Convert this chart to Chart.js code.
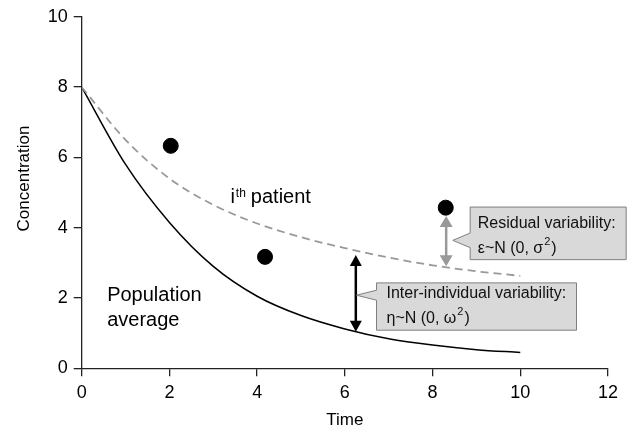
<!DOCTYPE html>
<html>
<head>
<meta charset="utf-8">
<script src="https://cdn.jsdelivr.net/npm/chart.js@4"></script>
<style>
  html, body { margin: 0; padding: 0; background: #fff; }
  #grafico-wrap { width: 630px; height: 437px; }
</style>
</head>
<body>
<div id="grafico-wrap"><canvas id="grafico"></canvas></div>
<script>
// curvas de concentração x tempo
const tempo = [0, 1, 2, 3, 4, 5, 6, 7, 8, 9, 10];
const mediaPopulacional = [8, 5.8, 4.15, 2.9, 2.05, 1.5, 1.12, 0.84, 0.66, 0.53, 0.45];
const pacienteI = [8, 6.5, 5.4, 4.65, 4.12, 3.73, 3.42, 3.15, 2.93, 2.76, 2.63];

// observações do paciente i
const obsTempo = [2.03, 4.18, 8.3];
const obsConc = [6.33, 3.17, 4.57];

const ticksTempo = [0, 2, 4, 6, 8, 10, 12];
const ticksConc = [0, 2, 4, 6, 8, 10];

const fonte = '"Liberation Sans", Arial, Helvetica, sans-serif';
const corEixo = '#222';

function seta(ctx, x, yBaixo, yCima, cor, larg, cabL, cabA) {
    ctx.save();
    ctx.strokeStyle = cor;
    ctx.fillStyle = cor;
    ctx.lineWidth = larg;
    ctx.beginPath();
    ctx.moveTo(x, yBaixo - cabA + 1);
    ctx.lineTo(x, yCima + cabA - 1);
    ctx.stroke();
    ctx.beginPath();
    ctx.moveTo(x, yCima);
    ctx.lineTo(x - cabL / 2, yCima + cabA);
    ctx.lineTo(x + cabL / 2, yCima + cabA);
    ctx.closePath();
    ctx.fill();
    ctx.beginPath();
    ctx.moveTo(x, yBaixo);
    ctx.lineTo(x - cabL / 2, yBaixo - cabA);
    ctx.lineTo(x + cabL / 2, yBaixo - cabA);
    ctx.closePath();
    ctx.fill();
    ctx.restore();
}

// texto com expoente: [texto, expoente, resto]
function textoExpoente(ctx, x, y, partes, tam, tamExp, sobe) {
    ctx.font = tam + 'px ' + fonte;
    ctx.fillText(partes[0], x, y);
    x += ctx.measureText(partes[0]).width + 1;
    ctx.font = tamExp + 'px ' + fonte;
    ctx.fillText(partes[1], x, y - sobe);
    x += ctx.measureText(partes[1]).width + 1;
    ctx.font = tam + 'px ' + fonte;
    ctx.fillText(partes[2], x, y);
}

function balao(ctx, tipX, tipY, b) {
    const esq = tipX + b.dx, topo = tipY - b.dy;
    ctx.save();
    ctx.fillStyle = '#d9d9d9';
    ctx.strokeStyle = '#7f7f7f';
    ctx.lineWidth = 1;
    ctx.beginPath();
    ctx.moveTo(esq, topo);
    ctx.lineTo(esq + b.w, topo);
    ctx.lineTo(esq + b.w, topo + b.h);
    ctx.lineTo(esq, topo + b.h);
    ctx.lineTo(esq, tipY + b.base);
    ctx.lineTo(tipX, tipY);
    ctx.lineTo(esq, tipY - b.base);
    ctx.closePath();
    ctx.fill();
    ctx.stroke();
    ctx.fillStyle = '#111';
    ctx.textAlign = 'left';
    ctx.textBaseline = 'alphabetic';
    ctx.font = '16px ' + fonte;
    ctx.fillText(b.linha1, esq + b.px, topo + b.l1);
    textoExpoente(ctx, esq + b.px, topo + b.l2, b.linha2, 16, 11, 8);
    ctx.restore();
}

const anotacoes = {
    id: 'anotacoes',
    afterDatasetsDraw(chart) {
        const ctx = chart.ctx;
        const sx = chart.scales.x, sy = chart.scales.y;
        const area = chart.chartArea;
        const px = v => sx.getPixelForValue(v);
        const py = v => sy.getPixelForValue(v);

        // variabilidade inter-individual (entre as curvas)
        seta(ctx, px(6.25), py(1.04), py(3.22), '#000', 2.5, 12, 11);
        // variabilidade residual (observação x curva do paciente)
        seta(ctx, px(8.31), py(2.9), py(4.33), '#999', 2.5, 13, 11);

        balao(ctx, px(8.31) + 6.6, py(3.64), {
            dx: 17.4, dy: 33.3, w: 156, h: 52.6, base: 7.3, px: 7.6, l1: 20.6, l2: 46,
            linha1: 'Residual variability:',
            linha2: ['ε~N (0, σ', '2', ')']
        });
        balao(ctx, px(6.25) + 0.7, py(2.08), {
            dx: 20, dy: 12.3, w: 200, h: 47.3, base: 5, px: 10, l1: 15.6, l2: 40.6,
            linha1: 'Inter-individual variability:',
            linha2: ['η~N (0, ω', '2', ')']
        });

        ctx.save();
        ctx.fillStyle = '#000';
        ctx.textAlign = 'left';
        ctx.textBaseline = 'alphabetic';

        // rótulo do paciente i
        let x = px(3.39);
        const y = py(4.71);
        ctx.font = '20px ' + fonte;
        ctx.fillText('i', x, y);
        x += ctx.measureText('i').width + 1;
        ctx.font = '12px ' + fonte;
        ctx.fillText('th', x, y - 6);
        x += ctx.measureText('th').width + 5;
        ctx.font = '20px ' + fonte;
        ctx.fillText('patient', x, y);

        ctx.fillText('Population', px(0.58), py(1.91));
        ctx.fillText('average', px(0.58), py(1.91) + 25);

        // títulos dos eixos
        ctx.font = '17px ' + fonte;
        ctx.textAlign = 'center';
        ctx.textBaseline = 'middle';
        ctx.fillText('Time', (area.left + area.right) / 2, area.bottom + 52);
        ctx.translate(area.left - 57.7, py(5.4));
        ctx.rotate(-Math.PI / 2);
        ctx.fillText('Concentration', 0, 0);
        ctx.restore();
    }
};

const eixo = {
    grid: { drawOnChartArea: false, drawTicks: true, tickLength: 8, color: corEixo, lineWidth: 1.3 },
    border: { display: true, color: corEixo, width: 1.3 },
};

new Chart(document.getElementById('grafico'), {
    type: 'line',
    data: {
        datasets: [
            {
                label: 'ith patient',
                data: tempo.map((t, i) => ({ x: t, y: pacienteI[i] })),
                borderColor: '#999',
                borderWidth: 1.8,
                borderDash: [8, 5],
                pointRadius: 0,
                cubicInterpolationMode: 'monotone',
                fill: false
            },
            {
                label: 'Population average',
                data: tempo.map((t, i) => ({ x: t, y: mediaPopulacional[i] })),
                borderColor: '#000',
                borderWidth: 1.5,
                pointRadius: 0,
                cubicInterpolationMode: 'monotone',
                fill: false
            },
            {
                type: 'scatter',
                label: 'Observations',
                data: obsTempo.map((t, i) => ({ x: t, y: obsConc[i] })),
                backgroundColor: '#000',
                borderColor: '#000',
                pointRadius: 7.5,
                pointHoverRadius: 7.5
            }
        ]
    },
    options: {
        responsive: true,
        maintainAspectRatio: false,
        animation: false,
        events: [],
        layout: { padding: { top: 15.7, right: 22, bottom: 0, left: 0 } },
        plugins: {
            legend: { display: false },
            tooltip: { enabled: false }
        },
        scales: {
            x: {
                type: 'linear',
                min: 0,
                max: 12,
                afterBuildTicks: s => { s.ticks = ticksTempo.map(v => ({ value: v })); },
                afterFit: s => { s.height = 68.7; },
                ticks: { color: '#000', font: { family: fonte, size: 18 }, padding: 6 },
                ...eixo
            },
            y: {
                min: 0,
                max: 10,
                afterBuildTicks: s => { s.ticks = ticksConc.map(v => ({ value: v })); },
                afterFit: s => { s.width = 81.7; },
                ticks: { color: '#000', font: { family: fonte, size: 18 }, padding: 6 },
                ...eixo
            }
        }
    },
    plugins: [anotacoes]
});
</script>
</body>
</html>
